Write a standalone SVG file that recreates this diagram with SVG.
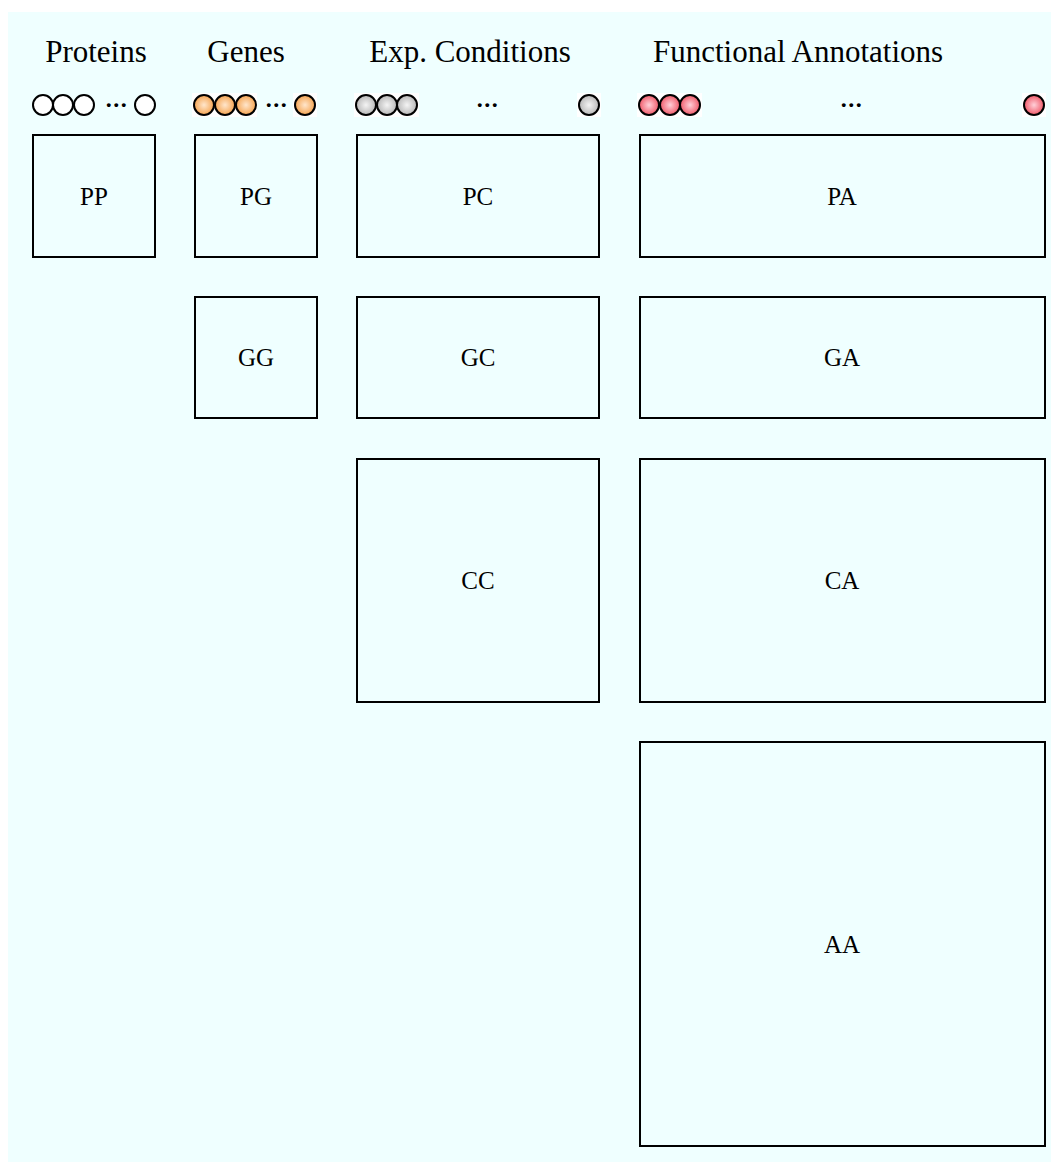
<svg xmlns="http://www.w3.org/2000/svg" width="1051" height="1162" viewBox="0 0 1051 1162">
<defs>
<radialGradient id="gO" cx="50%" cy="50%" r="50%"><stop offset="0" stop-color="#ffe6cc"/><stop offset="1" stop-color="#f5a552"/></radialGradient>
<radialGradient id="gG" cx="50%" cy="50%" r="50%"><stop offset="0" stop-color="#f4f4f4"/><stop offset="1" stop-color="#b8b8b8"/></radialGradient>
<radialGradient id="gR" cx="50%" cy="50%" r="50%"><stop offset="0" stop-color="#ffd0d8"/><stop offset="1" stop-color="#f05a6a"/></radialGradient>
<style>
.box{fill:#efffff;stroke:#000;stroke-width:2}
.c{stroke:#000;stroke-width:2}
.t{font-family:"Liberation Serif",serif;font-size:25px;text-anchor:middle;fill:#000}
.h{font-family:"Liberation Serif",serif;font-size:31px;text-anchor:middle;fill:#000}
.d{font-family:"Liberation Serif",serif;font-size:24px;font-weight:bold;letter-spacing:1.5px;text-anchor:middle;fill:#000}
</style>
</defs>
<rect x="0" y="0" width="1051" height="1162" fill="#ffffff"/>
<rect x="8" y="12" width="1043" height="1150" fill="#efffff"/>
<g id="headers">
<text class="h" x="96" y="62">Proteins</text>
<text class="h" x="246" y="62">Genes</text>
<text class="h" x="470" y="62">Exp. Conditions</text>
<text class="h" x="798" y="62">Functional Annotations</text>
</g>
<g id="proteins-circles" fill="#fff">
<circle class="c" cx="43" cy="105" r="10"/>
<circle class="c" cx="63" cy="105" r="10"/>
<circle class="c" cx="84" cy="105" r="10"/>
<text class="d" x="117" y="107">...</text>
<circle class="c" cx="145" cy="105" r="10"/>
</g>
<g id="genes-circles">
<rect x="192" y="93" width="65" height="24" fill="#fff"/>
<rect x="293" y="93" width="24" height="24" fill="#fff"/>
<circle class="c" cx="204" cy="105" r="10" fill="url(#gO)"/>
<circle class="c" cx="225" cy="105" r="10" fill="url(#gO)"/>
<circle class="c" cx="246" cy="105" r="10" fill="url(#gO)"/>
<text class="d" x="277" y="107">...</text>
<circle class="c" cx="305" cy="105" r="10" fill="url(#gO)"/>
</g>
<g id="conditions-circles">
<rect x="354" y="93" width="65" height="24" fill="#fff"/>
<rect x="577" y="93" width="24" height="24" fill="#fff"/>
<circle class="c" cx="366" cy="105" r="10" fill="url(#gG)"/>
<circle class="c" cx="387" cy="105" r="10" fill="url(#gG)"/>
<circle class="c" cx="407" cy="105" r="10" fill="url(#gG)"/>
<text class="d" x="488" y="107">...</text>
<circle class="c" cx="589" cy="105" r="10" fill="url(#gG)"/>
</g>
<g id="annotations-circles">
<rect x="637" y="93" width="65" height="24" fill="#fff"/>
<rect x="1022" y="93" width="24" height="24" fill="#fff"/>
<circle class="c" cx="649" cy="105" r="10" fill="url(#gR)"/>
<circle class="c" cx="670" cy="105" r="10" fill="url(#gR)"/>
<circle class="c" cx="690" cy="105" r="10" fill="url(#gR)"/>
<text class="d" x="852" y="107">...</text>
<circle class="c" cx="1034" cy="105" r="10" fill="url(#gR)"/>
</g>
<g id="PP"><rect class="box" x="33" y="135" width="122" height="122"/><text class="t" x="94" y="205">PP</text></g>
<g id="PG"><rect class="box" x="195" y="135" width="122" height="122"/><text class="t" x="256" y="205">PG</text></g>
<g id="PC"><rect class="box" x="357" y="135" width="242" height="122"/><text class="t" x="478" y="205">PC</text></g>
<g id="PA"><rect class="box" x="640" y="135" width="405" height="122"/><text class="t" x="842" y="205">PA</text></g>
<g id="GG"><rect class="box" x="195" y="297" width="122" height="121"/><text class="t" x="256" y="366">GG</text></g>
<g id="GC"><rect class="box" x="357" y="297" width="242" height="121"/><text class="t" x="478" y="366">GC</text></g>
<g id="GA"><rect class="box" x="640" y="297" width="405" height="121"/><text class="t" x="842" y="366">GA</text></g>
<g id="CC"><rect class="box" x="357" y="459" width="242" height="243"/><text class="t" x="478" y="589">CC</text></g>
<g id="CA"><rect class="box" x="640" y="459" width="405" height="243"/><text class="t" x="842" y="589">CA</text></g>
<g id="AA"><rect class="box" x="640" y="742" width="405" height="404"/><text class="t" x="842" y="953">AA</text></g>
<g id="connectors"/>
</svg>
